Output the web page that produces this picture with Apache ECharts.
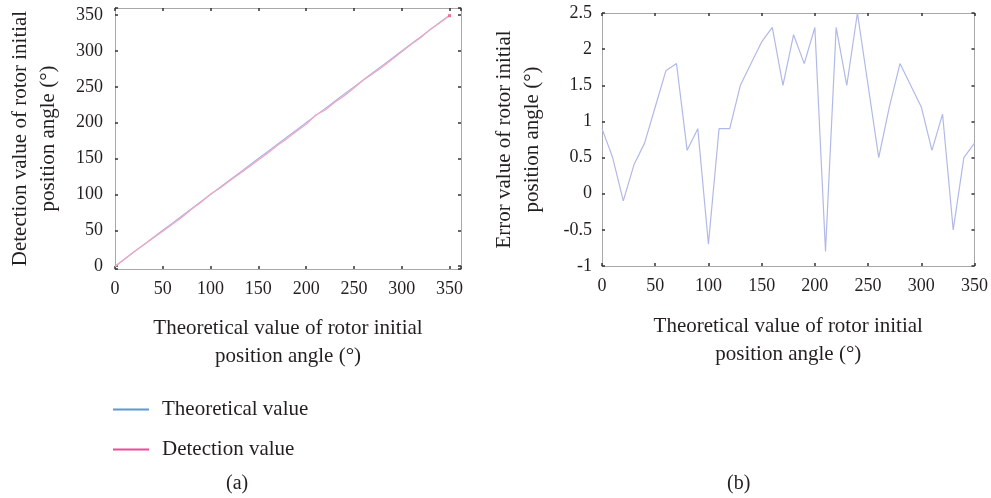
<!DOCTYPE html>
<html>
<head>
<meta charset="utf-8">
<script src="https://cdn.jsdelivr.net/npm/echarts@6/dist/echarts.min.js"></script>
<style>
  html, body { margin: 0; padding: 0; background: #fff; }
  #chart { width: 991px; height: 498px; }
</style>
</head>
<body>
<div id="chart"></div>
<script>
// angle samples (deg)
const angles = [0, 10, 20, 30, 40, 50, 60, 70, 80, 90, 100, 110, 120, 130, 140, 150, 160, 170,
  180, 190, 200, 210, 220, 230, 240, 250, 260, 270, 280, 290, 300, 310, 320, 330, 340, 350];
// theoretical value
const theoretical = [0, 10, 20, 30, 40, 50, 60, 70, 80, 90, 100, 110, 120, 130, 140, 150, 160, 170,
  180, 190, 200, 210, 220, 230, 240, 250, 260, 270, 280, 290, 300, 310, 320, 330, 340, 350];
// detection value
const detection = [-0.9, 9.5, 20.1, 29.6, 39.3, 48.8, 58.3, 68.2, 79.4, 89.1, 100.7, 109.1, 119.1, 128.5,
  138.2, 147.9, 157.7, 168.5, 177.8, 188.2, 197.7, 210.8, 217.7, 228.5, 237.5, 248.5, 259.5, 268.8,
  278.2, 288.5, 298.8, 309.4, 318.9, 330.5, 339.5, 349.3];
// error value
const errors = [0.9, 0.5, -0.1, 0.4, 0.7, 1.2, 1.7, 1.8, 0.6, 0.9, -0.7, 0.9, 0.9, 1.5, 1.8, 2.1, 2.3, 1.5,
  2.2, 1.8, 2.3, -0.8, 2.3, 1.5, 2.5, 1.5, 0.5, 1.2, 1.8, 1.5, 1.2, 0.6, 1.1, -0.5, 0.5, 0.7];

const xName = 'Theoretical value of rotor initial\nposition angle (°)';
const font = '"Liberation Serif", "DejaVu Serif", serif';
const txt = '#231f20';

const boxLine = { show: true, onZero: false, lineStyle: { color: '#a8a8a8', width: 1 } };
const inTick = { show: true, inside: true, length: 3, lineStyle: { color: '#333', width: 1.5 } };
const nameStyle = { fontSize: 21, color: txt, fontFamily: font, lineHeight: 28 };
const tickLabel = { fontSize: 18, color: txt, fontFamily: font };

// hide labels off the 50-step grid (left chart has padded extents)
const fmt50 = v => (Math.abs(v % 50) < 1e-6 ? String(v) : '');

function pairs(xs, ys) {
  return xs.map((x, i) => [x, ys[i]]);
}

const detData = pairs(angles, detection);
detData[detData.length - 1] = {
  value: detData[detData.length - 1], symbol: 'rect', symbolSize: 3,
  itemStyle: { color: '#f4708c' }
};

const myChart = echarts.init(document.getElementById('chart'));
const option = {
  animation: false,
  textStyle: { fontFamily: font, color: txt },
  grid: [
    { left: 115, top: 8, width: 346, height: 261 },
    { left: 602, top: 13, width: 376, height: 253 }
  ],
  legend: {
    orient: 'vertical', left: 113, top: 399, itemGap: 19, padding: 0,
    icon: 'rect', itemWidth: 36, itemHeight: 2,
    textStyle: { fontFamily: font, fontSize: 21, color: txt, padding: [0, 0, 0, 8] },
    data: [
      { name: 'Theoretical value', itemStyle: { color: '#5b9bd5' } },
      { name: 'Detection value', itemStyle: { color: '#ec4b96' } }
    ]
  },
  xAxis: [
    {
      gridIndex: 0, type: 'value', min: 0, max: 362, minInterval: 50, maxInterval: 50, splitNumber: 7,
      axisLine: boxLine, axisTick: inTick, splitLine: { show: false },
      axisLabel: Object.assign({ margin: 11, formatter: fmt50 }, tickLabel),
      name: xName, nameLocation: 'middle', nameGap: 45, nameTextStyle: nameStyle
    },
    {
      gridIndex: 0, type: 'value', position: 'top', min: 0, max: 362, minInterval: 50, maxInterval: 50, splitNumber: 7,
      axisLine: boxLine, axisTick: inTick, axisLabel: { show: false }, splitLine: { show: false }
    },
    {
      gridIndex: 1, type: 'value', min: 0, max: 350, interval: 50,
      axisLine: boxLine, axisTick: inTick, splitLine: { show: false },
      axisLabel: Object.assign({ margin: 11 }, tickLabel),
      name: xName, nameLocation: 'middle', nameGap: 46, nameTextStyle: nameStyle
    },
    {
      gridIndex: 1, type: 'value', position: 'top', min: 0, max: 350, interval: 50,
      axisLine: boxLine, axisTick: inTick, axisLabel: { show: false }, splitLine: { show: false }
    }
  ],
  yAxis: [
    {
      gridIndex: 0, type: 'value', min: -4, max: 360, minInterval: 50, maxInterval: 50, splitNumber: 7,
      axisLine: boxLine, axisTick: inTick, splitLine: { show: false },
      axisLabel: Object.assign({ margin: 12, formatter: fmt50 }, tickLabel),
      name: 'Detection value of rotor initial\nposition angle (°)', nameLocation: 'middle', nameGap: 53,
      nameTextStyle: nameStyle
    },
    {
      gridIndex: 0, type: 'value', position: 'right', min: -4, max: 360, minInterval: 50, maxInterval: 50, splitNumber: 7,
      axisLine: boxLine, axisTick: inTick, axisLabel: { show: false }, splitLine: { show: false }
    },
    {
      gridIndex: 1, type: 'value', min: -1, max: 2.5, interval: 0.5,
      axisLine: boxLine, axisTick: inTick, splitLine: { show: false },
      axisLabel: Object.assign({ margin: 10 }, tickLabel),
      name: 'Error value of rotor initial\nposition angle (°)', nameLocation: 'middle', nameGap: 56,
      nameTextStyle: nameStyle
    },
    {
      gridIndex: 1, type: 'value', position: 'right', min: -1, max: 2.5, interval: 0.5,
      axisLine: boxLine, axisTick: inTick, axisLabel: { show: false }, splitLine: { show: false }
    }
  ],
  graphic: [
    { type: 'text', left: 226, top: 474, style: { text: '(a)', font: '20px ' + font, fill: txt } },
    { type: 'text', left: 727, top: 474, style: { text: '(b)', font: '20px ' + font, fill: txt } }
  ],
  series: [
    {
      name: 'Theoretical value', type: 'line', xAxisIndex: 0, yAxisIndex: 0,
      data: pairs(angles, theoretical), showSymbol: false,
      lineStyle: { color: '#a9b3ea', width: 1.2 }, itemStyle: { color: '#a9b3ea' }
    },
    {
      name: 'Detection value', type: 'line', xAxisIndex: 0, yAxisIndex: 0,
      data: detData, symbol: 'none', showSymbol: true,
      lineStyle: { color: '#f3a7bf', width: 1.2 }, itemStyle: { color: '#f3a7bf' }
    },
    {
      name: 'Error', type: 'line', xAxisIndex: 2, yAxisIndex: 2,
      data: pairs(angles, errors), showSymbol: false,
      lineStyle: { color: '#b1b9e8', width: 1.2 }
    }
  ]
};
myChart.setOption(option);
window.addEventListener('resize', () => myChart.resize());
</script>
</body>
</html>
